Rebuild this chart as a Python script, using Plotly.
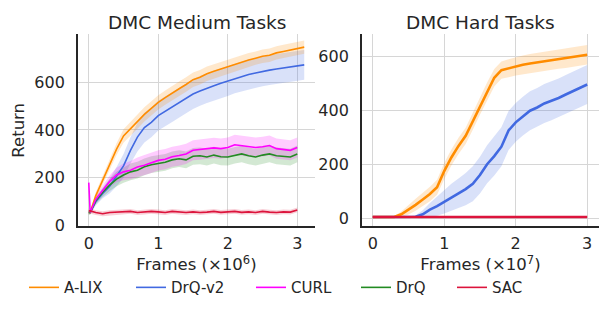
import plotly.graph_objects as go

# ---------------- data ----------------
frames_med = [0.0, 0.02, 0.1, 0.2, 0.3, 0.4, 0.5, 0.6, 0.7, 0.8, 0.9, 1.0, 1.1, 1.2, 1.3, 1.4, 1.5,
              1.6, 1.7, 1.8, 1.9, 2.0, 2.1, 2.2, 2.3, 2.4, 2.5, 2.6, 2.7, 2.8, 2.9, 3.0, 3.1]
alix_med = [55, 55, 125, 190, 255, 320, 375, 405, 435, 465, 490, 515, 535, 555, 572, 590, 610,
            620, 635, 645, 655, 665, 672, 685, 692, 700, 708, 712, 722, 728, 735, 740, 746]
alix_med_sd = [8, 8, 15, 20, 22, 25, 28, 30, 30, 30, 30, 30, 30, 30, 30, 30, 30,
               30, 30, 30, 30, 30, 30, 30, 30, 28, 28, 28, 28, 28, 28, 28, 28]
drqv2_med = [55, 55, 100, 135, 165, 205, 250, 315, 370, 410, 432, 460, 478, 495, 512, 532, 550,
             563, 575, 585, 595, 604, 615, 625, 632, 638, 645, 650, 655, 660, 665, 668, 672]
drqv2_med_sd = [8, 8, 15, 20, 30, 40, 50, 55, 60, 62, 62, 62, 62, 62, 62, 62, 62,
                62, 62, 62, 62, 62, 62, 62, 62, 62, 62, 62, 62, 62, 62, 62, 62]
frames_med_short = frames_med[:-1]
curl_med = [180, 55, 110, 150, 185, 212, 225, 232, 245, 253, 262, 273, 278, 288, 293, 300, 315,
            318, 320, 325, 322, 327, 338, 335, 330, 327, 330, 335, 322, 318, 315, 327]
curl_med_sd = [20, 8, 15, 20, 25, 30, 35, 38, 40, 42, 42, 42, 42, 42, 42, 42, 42,
               42, 42, 42, 42, 42, 42, 42, 42, 42, 42, 42, 42, 42, 42, 42]
drq_med = [55, 55, 105, 140, 170, 195, 212, 225, 232, 246, 255, 260, 265, 275, 280, 275, 290,
           292, 287, 295, 288, 287, 295, 300, 292, 287, 295, 300, 292, 288, 287, 300]
drq_med_sd = [8, 8, 15, 20, 25, 30, 32, 35, 35, 35, 35, 35, 35, 35, 35, 35, 35,
              35, 35, 35, 35, 35, 35, 35, 35, 35, 35, 35, 35, 35, 35, 35]
sac_med = [62, 62, 55, 50, 55, 56, 58, 60, 55, 57, 60, 58, 55, 60, 57, 55, 58,
           55, 57, 60, 56, 58, 60, 56, 58, 55, 60, 57, 55, 58, 57, 66]
sac_med_sd = [10, 10, 10, 10, 10, 10, 10, 10, 10, 10, 10, 10, 10, 10, 10, 10, 10,
              10, 10, 10, 10, 10, 10, 10, 10, 10, 10, 10, 10, 10, 10, 10]

frames_hard = [0.0, 0.1, 0.2, 0.3, 0.4, 0.5, 0.6, 0.7, 0.8, 0.9, 1.0, 1.1, 1.2, 1.3, 1.4, 1.5,
               1.6, 1.7, 1.8, 1.9, 2.0, 2.1, 2.2, 2.3, 2.4, 2.5, 2.6, 2.7, 2.8, 2.9, 3.0]
alix_hard = [5, 5, 5, 5, 15, 32, 50, 70, 90, 115, 175, 225, 268, 305, 360, 415,
             470, 520, 548, 555, 562, 568, 573, 577, 581, 585, 589, 592, 596, 600, 605]
alix_hard_sd = [2, 2, 2, 3, 10, 18, 22, 25, 27, 28, 30, 30, 30, 30, 32, 32,
                32, 32, 32, 33, 34, 34, 35, 35, 35, 36, 36, 36, 36, 36, 36]
drqv2_hard = [5, 5, 5, 5, 5, 5, 6, 15, 32, 45, 60, 78, 92, 108, 128, 160,
              200, 230, 265, 325, 355, 378, 398, 410, 425, 435, 445, 458, 470, 483, 495]
drqv2_hard_sd = [2, 2, 2, 2, 2, 2, 5, 15, 25, 35, 42, 50, 55, 60, 65, 68,
                 70, 72, 72, 72, 72, 72, 72, 72, 72, 72, 72, 72, 72, 72, 72]
sac_hard = [5, 5, 5, 5, 5, 5, 5, 5, 5, 5, 5, 5, 5, 5, 5, 5,
            5, 5, 5, 5, 5, 5, 5, 5, 5, 5, 5, 5, 5, 5, 5]
sac_hard_sd = [2, 2, 2, 2, 2, 2, 2, 2, 2, 2, 2, 2, 2, 2, 2, 2,
               2, 2, 2, 2, 2, 2, 2, 2, 2, 2, 2, 2, 2, 2, 2]

methods = ["A-LIX", "DrQ-v2", "CURL", "DrQ", "SAC"]
colors = {"A-LIX": "#ff8c00", "DrQ-v2": "#4169e1", "CURL": "#ff00ff",
          "DrQ": "#228b22", "SAC": "#dc143c"}
fills = {"A-LIX": "rgba(255,140,0,0.2)", "DrQ-v2": "rgba(65,105,225,0.2)",
         "CURL": "rgba(255,0,255,0.2)", "DrQ": "rgba(34,139,34,0.2)",
         "SAC": "rgba(220,20,60,0.2)"}
legend_ids = {"A-LIX": "legend", "DrQ-v2": "legend2", "CURL": "legend3",
              "DrQ": "legend4", "SAC": "legend5"}
legend_x_px = {"A-LIX": 16, "DrQ-v2": 123, "CURL": 243, "DrQ": 348, "SAC": 444}

medium = {
    "A-LIX": (frames_med, alix_med, alix_med_sd),
    "DrQ-v2": (frames_med, drqv2_med, drqv2_med_sd),
    "CURL": (frames_med_short, curl_med, curl_med_sd),
    "DrQ": (frames_med_short, drq_med, drq_med_sd),
    "SAC": (frames_med_short, sac_med, sac_med_sd),
}
hard = {
    "A-LIX": (frames_hard, alix_hard, alix_hard_sd),
    "DrQ-v2": (frames_hard, drqv2_hard, drqv2_hard_sd),
    "SAC": (frames_hard, sac_hard, sac_hard_sd),
}

draw_order = ["DrQ-v2", "A-LIX", "DrQ", "CURL", "SAC"]

fig = go.Figure()


def add_panel(data, xa, ya, lw, legend):
    for m in draw_order:
        if m not in data:
            continue
        x, y, sd = data[m]
        up = [a + b for a, b in zip(y, sd)]
        lo = [a - b for a, b in zip(y, sd)]
        fig.add_trace(go.Scatter(x=list(x) + list(x)[::-1], y=up + lo[::-1], fill="toself",
                                 fillcolor=fills[m], line=dict(width=0), mode="lines",
                                 hoverinfo="skip", showlegend=False, xaxis=xa, yaxis=ya))
    for m in draw_order:
        if m not in data:
            continue
        x, y, sd = data[m]
        fig.add_trace(go.Scatter(x=x, y=y, mode="lines", name=m,
                                 line=dict(color=colors[m], width=lw),
                                 showlegend=legend, legend=legend_ids[m],
                                 xaxis=xa, yaxis=ya))


add_panel(medium, "x", "y", 1.6, True)
add_panel(hard, "x2", "y2", 2.6, False)

W, H = 613, 309
font = "DejaVu Sans"
axis_common = dict(showgrid=True, gridcolor="#d6d6d6", gridwidth=1, zeroline=False,
                   showline=True, linecolor="#262626", linewidth=1.8, ticks="",
                   tickfont=dict(size=16, color="#262626", family=font))

legend_layouts = {}
for m in methods:
    legend_layouts[legend_ids[m]] = dict(
        orientation="h", x=legend_x_px[m] / W, y=1 - 288 / H, xanchor="left", yanchor="middle",
        font=dict(size=15, family=font, color="#262626"), bgcolor="rgba(0,0,0,0)")

fig.update_layout(
    width=W, height=H, margin=dict(l=0, r=0, t=0, b=0),
    plot_bgcolor="white", paper_bgcolor="white",
    font=dict(family=font, color="#262626"),
    xaxis=dict(domain=[70 / W, 307 / W], range=[-0.155, 3.255], tickvals=[0, 1, 2, 3],
               ticklabelstandoff=1,
               title=dict(text="Frames (×10<sup>6</sup>)", font=dict(size=16.5), standoff=4),
               **axis_common),
    yaxis=dict(domain=[1 - 225 / H, 1 - 27 / H], range=[-3, 800], tickvals=[0, 200, 400, 600],
               ticklabelstandoff=8,
               title=dict(text="Return", font=dict(size=16.5), standoff=6), **axis_common),
    xaxis2=dict(domain=[354 / W, 591 / W], range=[-0.15, 3.165], tickvals=[0, 1, 2, 3],
                anchor="y2", ticklabelstandoff=1,
                title=dict(text="Frames (×10<sup>7</sup>)", font=dict(size=16.5), standoff=4),
                **axis_common),
    yaxis2=dict(domain=[1 - 225 / H, 1 - 27 / H], range=[-30, 681], tickvals=[0, 200, 400, 600],
                anchor="x2", ticklabelstandoff=8, **axis_common),
    annotations=[
        dict(text="DMC Medium Tasks", x=188.5 / W, y=1 - 15 / H, xref="paper", yref="paper",
             showarrow=False, font=dict(size=18.5, family=font, color="#262626"),
             xanchor="center", yanchor="middle"),
        dict(text="DMC Hard Tasks", x=472.5 / W, y=1 - 15 / H, xref="paper", yref="paper",
             showarrow=False, font=dict(size=18.5, family=font, color="#262626"),
             xanchor="center", yanchor="middle"),
    ],
    **legend_layouts,
)

fig.write_html("out.html")
